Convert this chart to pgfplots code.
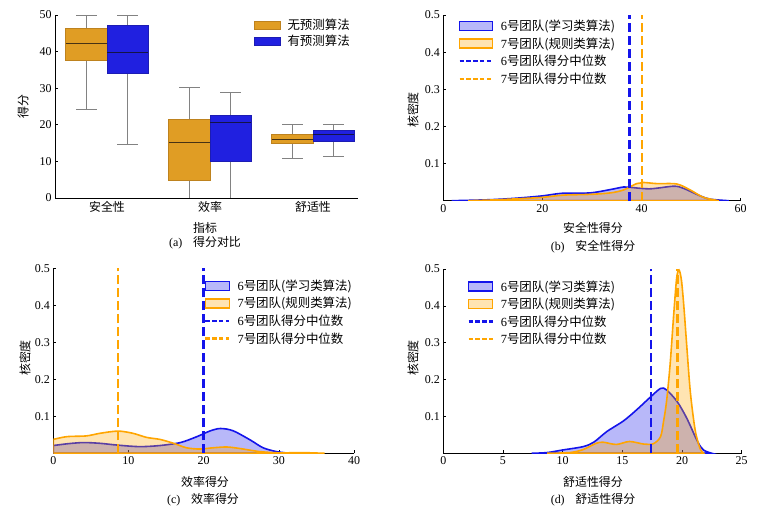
\documentclass[border=0pt]{standalone}
\usepackage{pgfplots}
\pgfplotsset{compat=1.18}
\usepgfplotslibrary{statistics}
\usepackage{fontspec}
\setmainfont{Liberation Serif}
\newfontfamily\cjk{Noto Sans CJK SC}
\newcommand{\zh}[1]{{\cjk #1}}

\definecolor{ofill}{RGB}{224,157,36}
\definecolor{oedge}{RGB}{190,130,30}
\definecolor{omed}{RGB}{70,50,20}
\definecolor{bfill}{RGB}{32,32,224}
\definecolor{bedge}{RGB}{28,28,180}
\definecolor{bmed}{RGB}{20,20,70}
\definecolor{wgray}{RGB}{130,130,130}
\definecolor{kblue}{RGB}{20,20,235}
\definecolor{korange}{RGB}{255,165,0}

\pgfplotsset{
  common/.style={
    scale only axis, anchor=south west,
    axis lines*=left,
    axis line style={black, line width=0.6bp, -},
    tick style={black, line width=0.6bp},
    tick align=inside, major tick length=3bp,
    /pgf/number format/assume math mode=true,
    tick label style={font=\fontsize{12}{14}\selectfont},
    legend style={draw=none, fill=none, font=\fontsize{12.5}{14}\selectfont, row sep=1.5bp,
      /tikz/every odd column/.append style={column sep=5bp}},
    legend cell align=left,
  },
  boxleg/.style={legend image code/.code={\draw[##1] (0bp,-4bp) rectangle (26bp,4bp);}},
  patchleg/.style={legend image code/.code={\draw[##1] (0bp,-4.5bp) rectangle (33bp,4.5bp);}},
  dashleg/.style={legend image code/.code={\draw[##1] (0bp,0bp) -- (33bp,0bp);}},
  patchlegS/.style={legend image code/.code={\draw[##1] (0bp,-4.5bp) rectangle (24bp,4.5bp);}},
  dashlegS/.style={legend image code/.code={\draw[##1] (0bp,0bp) -- (24bp,0bp);}},
  kdeB/.style={draw=kblue, line width=1.6bp, fill=kblue, fill opacity=0.3, smooth, tension=0.5, forget plot},
  kdeO/.style={draw=korange, line width=1.6bp, fill=korange, fill opacity=0.3, smooth, tension=0.5, forget plot},
  medB/.style={draw=kblue, line width=2.5bp, dash pattern=on 9bp off 4bp, forget plot},
  medO/.style={draw=korange, line width=2.5bp, dash pattern=on 9bp off 4bp, forget plot},
  kdeaxis/.style={common,
    ymin=0, ymax=0.5, ytick={0.1,0.2,0.3,0.4,0.5},
    yticklabel style={/pgf/number format/fixed, /pgf/number format/precision=1, /pgf/number format/fixed zerofill},
  },
}

\begin{document}
\begin{tikzpicture}
\useasboundingbox (0,0) rectangle (779bp,510bp);

% ---------------- (a) ----------------
\begin{axis}[common, at={(55bp,312bp)}, width=303bp, height=183bp,
  xmin=-0.505, xmax=2.437, ymin=0, ymax=50,
  xtick={0,1,2}, xticklabels={\zh{安全性},\zh{效率},\zh{舒适性}},
  x tick style={draw=none},
  ytick={0,10,20,30,40,50},
  legend style={at={(0.99,1.0)}, anchor=north east, row sep=0bp},
  boxplot/draw direction=y,
]
\addlegendimage{boxleg, fill=ofill, draw=oedge, line width=0.5bp}
\addlegendentry{\zh{无预测算法}}
\addlegendimage{boxleg, fill=bfill, draw=bedge, line width=0.5bp}
\addlegendentry{\zh{有预测算法}}
% safety
\addplot[forget plot, draw=wgray, line width=0.7bp,
  boxplot prepared={draw position=-0.2, box extend=0.4, whisker extend=0.2,
    lower whisker=24.3, lower quartile=37.5, median=42.1, upper quartile=46.4, upper whisker=50,
    every box/.style={draw=oedge, fill=ofill, line width=0.7bp},
    every median/.style={draw=omed, line width=1.1bp}}] coordinates {};
\addplot[forget plot, draw=wgray, line width=0.7bp,
  boxplot prepared={draw position=0.2, box extend=0.4, whisker extend=0.2,
    lower whisker=14.7, lower quartile=34.1, median=39.7, upper quartile=47.3, upper whisker=50,
    every box/.style={draw=bedge, fill=bfill, line width=0.7bp},
    every median/.style={draw=bmed, line width=1.1bp}}] coordinates {};
% efficiency
\addplot[forget plot, draw=wgray, line width=0.7bp,
  boxplot prepared={draw position=0.8, box extend=0.4, whisker extend=0.2,
    lower whisker=0, lower quartile=4.8, median=15.2, upper quartile=21.4, upper whisker=30.1,
    every box/.style={draw=oedge, fill=ofill, line width=0.7bp},
    every median/.style={draw=omed, line width=1.1bp}}] coordinates {};
\addplot[forget plot, draw=wgray, line width=0.7bp,
  boxplot prepared={draw position=1.2, box extend=0.4, whisker extend=0.2,
    lower whisker=0, lower quartile=10.0, median=20.7, upper quartile=22.5, upper whisker=28.8,
    every box/.style={draw=bedge, fill=bfill, line width=0.7bp},
    every median/.style={draw=bmed, line width=1.1bp}}] coordinates {};
% comfort
\addplot[forget plot, draw=wgray, line width=0.7bp,
  boxplot prepared={draw position=1.8, box extend=0.4, whisker extend=0.2,
    lower whisker=10.8, lower quartile=14.8, median=16.1, upper quartile=17.5, upper whisker=20.2,
    every box/.style={draw=oedge, fill=ofill, line width=0.7bp},
    every median/.style={draw=omed, line width=1.1bp}}] coordinates {};
\addplot[forget plot, draw=wgray, line width=0.7bp,
  boxplot prepared={draw position=2.2, box extend=0.4, whisker extend=0.2,
    lower whisker=11.5, lower quartile=15.6, median=17.3, upper quartile=18.5, upper whisker=20.2,
    every box/.style={draw=bedge, fill=bfill, line width=0.7bp},
    every median/.style={draw=bmed, line width=1.1bp}}] coordinates {};
\end{axis}

% ---------------- (b) ----------------
\begin{axis}[kdeaxis, at={(443.3bp,309.3bp)}, width=297.4bp, height=185.7bp,
  xmin=0, xmax=60, xtick={0,20,40,60},
  legend style={at={(0.04,0.995)}, anchor=north west},
]
\addlegendimage{patchleg, draw=kblue, fill=kblue, fill opacity=0.3, line width=1.6bp}
\addlegendentry{6\zh{号团队(学习类算法)}}
\addlegendimage{patchleg, draw=korange, fill=korange, fill opacity=0.3, line width=1.6bp}
\addlegendentry{7\zh{号团队(规则类算法)}}
\addlegendimage{dashleg, draw=kblue, line width=2.4bp, dash pattern=on 4.5bp off 2.3bp}
\addlegendentry{6\zh{号团队得分中位数}}
\addlegendimage{dashleg, draw=korange, line width=2.4bp, dash pattern=on 4.5bp off 2.3bp}
\addlegendentry{7\zh{号团队得分中位数}}
\addplot[kdeB] coordinates {(1.7,0) (5,0.001) (10,0.003) (15,0.007) (20,0.013) (24,0.020) (29.6,0.021) (33.7,0.030) (36.4,0.037) (37.7,0.036) (41.7,0.032) (46.5,0.039) (48.5,0.033) (51.9,0.0125) (53.9,0.004) (57.6,0)} \closedcycle;
\addplot[kdeO] coordinates {(5,0) (10,0.002) (16.2,0.006) (20,0.009) (24.2,0.015) (29.6,0.017) (33.7,0.021) (36.4,0.029) (39,0.046) (40.4,0.049) (43.1,0.046) (47.1,0.045) (49.8,0.029) (52.5,0.009) (55.6,0)} \closedcycle;
\addplot[medB] coordinates {(37.6,0) (37.6,0.5)};
\addplot[medO] coordinates {(40.1,0) (40.1,0.5)};
\end{axis}

% ---------------- (c) ----------------
\begin{axis}[kdeaxis, at={(53.3bp,56.7bp)}, width=300.7bp, height=185bp,
  xmin=0, xmax=40, xtick={0,10,20,30,40},
  legend style={at={(1.01,0.96)}, anchor=north east},
]
\addlegendimage{patchlegS, draw=kblue, fill=kblue, fill opacity=0.3, line width=1.6bp}
\addlegendentry{6\zh{号团队(学习类算法)}}
\addlegendimage{patchlegS, draw=korange, fill=korange, fill opacity=0.3, line width=1.6bp}
\addlegendentry{7\zh{号团队(规则类算法)}}
\addlegendimage{dashlegS, draw=kblue, line width=2.4bp, dash pattern=on 4.5bp off 2.3bp}
\addlegendentry{6\zh{号团队得分中位数}}
\addlegendimage{dashlegS, draw=korange, line width=2.4bp, dash pattern=on 4.5bp off 2.3bp}
\addlegendentry{7\zh{号团队得分中位数}}
\addplot[kdeB] coordinates {(0,0.021) (2,0.026) (4,0.029) (6.2,0.027) (8.6,0.022) (11.5,0.018) (14.2,0.021) (16.9,0.029) (19.1,0.045) (20.8,0.060) (22.2,0.067) (23.9,0.061) (26.2,0.036) (27.9,0.015) (29.7,0.0045) (31.5,0)} \closedcycle;
\addplot[kdeO] coordinates {(0,0.0375) (1.8,0.045) (4.4,0.047) (6.2,0.054) (8.6,0.060) (10.6,0.054) (12.4,0.043) (14.2,0.0375) (16,0.027) (17.7,0.015) (19.5,0.0115) (21.3,0.015) (23.1,0.017) (24.8,0.013) (27.5,0.0045) (30.2,0.001) (32.8,0.002) (36.1,0)} \closedcycle;
\addplot[medB] coordinates {(20.0,0) (20.0,0.5)};
\addplot[medO] coordinates {(8.6,0) (8.6,0.5)};
\end{axis}

% ---------------- (d) ----------------
\begin{axis}[kdeaxis, at={(443.3bp,56.7bp)}, width=298.4bp, height=184.3bp,
  xmin=0, xmax=25, xtick={0,5,10,15,20,25},
  legend style={at={(0.07,0.96)}, anchor=north west},
]
\addlegendimage{patchlegS, draw=kblue, fill=kblue, fill opacity=0.3, line width=1.6bp}
\addlegendentry{6\zh{号团队(学习类算法)}}
\addlegendimage{patchlegS, draw=korange, fill=korange, fill opacity=0.3, line width=1.6bp}
\addlegendentry{7\zh{号团队(规则类算法)}}
\addlegendimage{dashlegS, draw=kblue, line width=2.4bp, dash pattern=on 4.5bp off 2.3bp}
\addlegendentry{6\zh{号团队得分中位数}}
\addlegendimage{dashlegS, draw=korange, line width=2.4bp, dash pattern=on 4.5bp off 2.3bp}
\addlegendentry{7\zh{号团队得分中位数}}
\addplot[kdeB] coordinates {(7.4,0) (8.7,0.002) (10,0.009) (11.7,0.018) (12.6,0.030) (13.7,0.059) (15.1,0.088) (16.2,0.118) (17.3,0.151) (18.2,0.176) (18.7,0.172) (19.6,0.140) (20.4,0.095) (21.3,0.032) (21.8,0.009) (22.5,0)} \closedcycle;
\addplot[kdeO] coordinates {(8.7,0) (10.6,0.002) (11.7,0.010) (12.8,0.027) (13.4,0.030) (14.5,0.024) (15.6,0.032) (16.8,0.025) (17.6,0.026) (18.2,0.045) (18.45,0.086) (18.7,0.140) (19.0,0.240) (19.3,0.375) (19.55,0.475) (19.75,0.497) (19.95,0.47) (20.15,0.40) (20.4,0.29) (20.7,0.165) (21.1,0.063) (21.5,0.014) (21.8,0)} \closedcycle;
\addplot[medB] coordinates {(17.4,0) (17.4,0.5)};
\addplot[medO] coordinates {(19.6,0) (19.6,0.5)};
\end{axis}

% ---------------- labels & captions ----------------
\begin{scope}[every node/.style={font=\fontsize{12}{14}\selectfont, inner sep=0pt}]
\node at (205bp,282bp) {\zh{指标}};
\node[rotate=90] at (23bp,403bp) {\zh{得分}};
\node at (205bp,267bp) {(a)\hspace{0.9em}\zh{得分对比}};

\node at (593bp,282bp) {\zh{安全性得分}};
\node[rotate=90] at (413bp,400bp) {\zh{核密度}};
\node at (593bp,263bp) {(b)\hspace{0.9em}\zh{安全性得分}};

\node at (205bp,28bp) {\zh{效率得分}};
\node[rotate=90] at (25bp,152bp) {\zh{核密度}};
\node at (203bp,10bp) {(c)\hspace{0.9em}\zh{效率得分}};

\node at (593bp,28bp) {\zh{舒适性得分}};
\node[rotate=90] at (413bp,152bp) {\zh{核密度}};
\node at (593bp,10bp) {(d)\hspace{0.9em}\zh{舒适性得分}};
\end{scope}
\end{tikzpicture}
\end{document}
